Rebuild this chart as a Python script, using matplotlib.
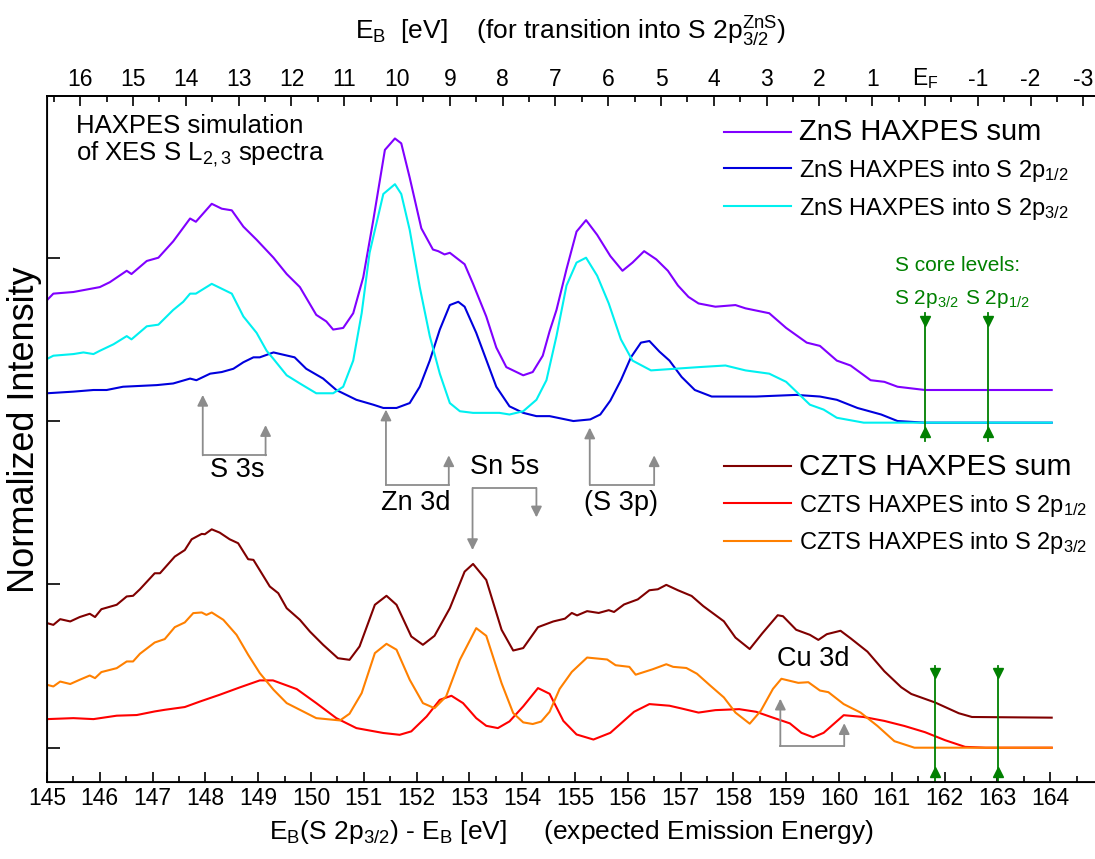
import matplotlib
matplotlib.use("Agg")
import matplotlib.pyplot as plt

plt.rcParams['font.family'] = ['Liberation Sans', 'DejaVu Sans']
plt.rcParams['mathtext.fontset'] = 'custom'
plt.rcParams['mathtext.rm'] = 'Liberation Sans'
plt.rcParams['mathtext.it'] = 'Liberation Sans:italic'
plt.rcParams['mathtext.default'] = 'regular'

# ---- data ----
# ZnS, HAXPES sum
zns_sum_x = [145.0, 145.12, 145.5, 146.0, 146.19, 146.51, 146.6, 146.89, 147.11, 147.39,
             147.71, 147.82, 148.12, 148.31, 148.5, 148.72, 148.97, 149.29, 149.54, 149.79,
             150.1, 150.29, 150.42, 150.61, 150.8, 150.99, 151.18, 151.4, 151.59, 151.71,
             151.87, 152.09, 152.31, 152.41, 152.53, 152.63, 152.91, 153.07, 153.32, 153.51,
             153.7, 154.02, 154.2, 154.39, 154.52, 154.65, 154.84, 155.03, 155.21, 155.42,
             155.67, 155.9, 156.09, 156.31, 156.54, 156.76, 156.95, 157.15, 157.34, 157.66,
             158.04, 158.23, 158.68, 159.0, 159.39, 159.64, 159.96, 160.22, 160.6, 160.86,
             161.11, 161.63, 162.65, 164.03]
zns_sum_y = [2.74, 2.78, 2.79, 2.82, 2.85, 2.92, 2.90, 2.98, 3.00, 3.10,
             3.24, 3.22, 3.33, 3.30, 3.29, 3.19, 3.11, 3.00, 2.90, 2.82,
             2.65, 2.61, 2.56, 2.57, 2.66, 2.88, 3.23, 3.66, 3.73, 3.70,
             3.49, 3.18, 3.05, 3.04, 3.02, 3.03, 2.96, 2.84, 2.64, 2.45,
             2.33, 2.28, 2.30, 2.40, 2.55, 2.68, 2.93, 3.16, 3.23, 3.14,
             3.01, 2.92, 2.97, 3.04, 2.99, 2.92, 2.83, 2.76, 2.72, 2.70,
             2.71, 2.69, 2.66, 2.57, 2.48, 2.46, 2.37, 2.34, 2.25, 2.24,
             2.21, 2.19, 2.19, 2.19]

# ZnS, into S 2p1/2
zns_p12_x = [145.0, 145.5, 145.88, 146.13, 146.44, 147.08, 147.39, 147.71, 147.83, 148.09,
             148.31, 148.53, 148.72, 148.91, 149.03, 149.29, 149.69, 149.91, 150.23, 150.48,
             150.86, 151.18, 151.37, 151.62, 151.87, 152.06, 152.25, 152.44, 152.63, 152.79,
             152.91, 153.13, 153.51, 153.76, 154.02, 154.27, 154.52, 154.97, 155.29, 155.48,
             155.67, 155.87, 156.06, 156.25, 156.41, 156.6, 156.79, 157.02, 157.27, 157.59,
             157.91, 158.43, 159.19, 159.64, 159.96, 160.35, 160.8, 161.11, 161.63, 164.03]
zns_p12_y = [2.17, 2.18, 2.19, 2.19, 2.21, 2.22, 2.23, 2.26, 2.25, 2.29,
             2.30, 2.32, 2.36, 2.39, 2.39, 2.42, 2.39, 2.32, 2.26, 2.19,
             2.13, 2.10, 2.08, 2.08, 2.11, 2.21, 2.37, 2.56, 2.71, 2.73,
             2.70, 2.54, 2.21, 2.09, 2.05, 2.03, 2.03, 2.00, 2.01, 2.04,
             2.125, 2.25, 2.39, 2.48, 2.49, 2.425, 2.37, 2.27, 2.19, 2.15,
             2.15, 2.15, 2.16, 2.15, 2.13, 2.08, 2.04, 2.00, 1.99, 1.99]

# ZnS, into S 2p3/2
zns_p32_x = [145.0, 145.12, 145.5, 145.69, 145.88, 146.0, 146.26, 146.51, 146.6, 146.89,
             147.11, 147.39, 147.58, 147.71, 147.82, 148.12, 148.31, 148.5, 148.72, 148.97,
             149.16, 149.29, 149.54, 149.79, 150.1, 150.42, 150.61, 150.8, 150.96, 151.11,
             151.37, 151.59, 151.71, 151.87, 152.06, 152.25, 152.44, 152.63, 152.82, 153.07,
             153.57, 153.76, 154.02, 154.27, 154.46, 154.65, 154.84, 155.03, 155.21, 155.42,
             155.64, 155.87, 156.09, 156.44, 156.89, 157.34, 157.85, 158.23, 158.68, 159.0,
             159.45, 159.71, 159.96, 160.47, 164.03]
zns_p32_y = [2.38, 2.40, 2.41, 2.42, 2.41, 2.43, 2.47, 2.52, 2.50, 2.58,
             2.59, 2.68, 2.73, 2.78, 2.78, 2.84, 2.81, 2.78, 2.64, 2.54,
             2.43, 2.38, 2.28, 2.23, 2.17, 2.17, 2.21, 2.37, 2.66, 3.03,
             3.39, 3.45, 3.39, 3.17, 2.82, 2.52, 2.29, 2.11, 2.06, 2.05,
             2.05, 2.04, 2.06, 2.13, 2.25, 2.52, 2.83, 2.97, 3.00, 2.89,
             2.72, 2.50, 2.37, 2.31, 2.32, 2.33, 2.34, 2.31, 2.29, 2.24,
             2.10, 2.07, 2.02, 1.99, 1.99]

# CZTS, HAXPES sum
czts_sum_x = [145.0, 145.12, 145.25, 145.44, 145.62, 145.81, 145.91, 146.03, 146.32, 146.51,
              146.63, 146.76, 147.04, 147.14, 147.42, 147.61, 147.74, 147.93, 147.99, 148.12,
              148.27, 148.46, 148.62, 148.81, 148.91, 149.22, 149.38, 149.54, 149.79, 149.98,
              150.23, 150.51, 150.73, 150.92, 151.21, 151.43, 151.62, 151.9, 152.12, 152.34,
              152.63, 152.91, 153.07, 153.32, 153.61, 153.83, 154.02, 154.3, 154.59, 154.81,
              154.94, 155.04, 155.23, 155.45, 155.64, 155.74, 155.93, 156.19, 156.41, 156.57,
              156.73, 156.95, 157.21, 157.43, 157.82, 158.04, 158.31, 158.55, 158.84, 158.94,
              159.19, 159.45, 159.61, 159.77, 160.03, 160.22, 160.54, 160.86, 161.18, 161.37,
              161.82, 162.27, 162.52, 164.03]
czts_sum_y = [0.763, 0.752, 0.787, 0.773, 0.80, 0.82, 0.80, 0.848, 0.875, 0.926,
              0.93, 0.97, 1.068, 1.068, 1.17, 1.21, 1.276, 1.309, 1.307, 1.337,
              1.317, 1.276, 1.252, 1.154, 1.15, 0.987, 0.946, 0.854, 0.783, 0.711,
              0.63, 0.548, 0.538, 0.62, 0.875, 0.93, 0.875, 0.681, 0.63, 0.685,
              0.854, 1.078, 1.125, 1.027, 0.722, 0.595, 0.61, 0.738, 0.773, 0.79,
              0.825, 0.81, 0.836, 0.825, 0.842, 0.831, 0.877, 0.908, 0.964, 0.97,
              0.997, 0.964, 0.929, 0.867, 0.774, 0.674, 0.604, 0.701, 0.811, 0.805,
              0.722, 0.691, 0.66, 0.695, 0.716, 0.67, 0.588, 0.468, 0.37, 0.329,
              0.277, 0.211, 0.188, 0.184]

# CZTS, into S 2p1/2
czts_p12_x = [145.0, 145.5, 145.88, 146.32, 146.7, 147.04, 147.23, 147.61, 147.9, 148.27,
              148.65, 149.03, 149.28, 149.73, 150.1, 150.48, 150.86, 151.37, 151.68, 151.9,
              152.19, 152.44, 152.66, 152.88, 153.13, 153.32, 153.54, 153.76, 154.02, 154.3,
              154.52, 154.78, 155.03, 155.35, 155.67, 156.12, 156.41, 156.79, 157.02, 157.34,
              157.66, 158.11, 158.43, 158.75, 159.07, 159.29, 159.51, 159.71, 160.09, 160.47,
              160.86, 161.24, 161.63, 162.01, 162.39, 162.78, 164.03]
czts_p12_y = [0.175, 0.181, 0.175, 0.196, 0.20, 0.222, 0.232, 0.249, 0.283, 0.324,
              0.369, 0.412, 0.412, 0.359, 0.273, 0.181, 0.12, 0.09, 0.079, 0.10,
              0.191, 0.293, 0.318, 0.273, 0.181, 0.134, 0.12, 0.161, 0.253, 0.365,
              0.33, 0.164, 0.081, 0.05, 0.091, 0.22, 0.267, 0.257, 0.24, 0.215,
              0.23, 0.236, 0.22, 0.184, 0.149, 0.091, 0.064, 0.091, 0.199, 0.188,
              0.164, 0.133, 0.095, 0.046, 0.005, 0.0, 0.0]

# CZTS, into S 2p3/2
czts_p32_x = [145.0, 145.12, 145.25, 145.44, 145.62, 145.81, 145.91, 146.03, 146.32, 146.51,
              146.63, 146.76, 147.04, 147.23, 147.42, 147.61, 147.77, 147.93, 148.02, 148.12,
              148.34, 148.59, 148.81, 149.03, 149.29, 149.54, 149.79, 150.1, 150.42, 150.55,
              150.73, 150.96, 151.21, 151.43, 151.62, 151.87, 152.12, 152.34, 152.56, 152.82,
              153.13, 153.32, 153.61, 153.83, 154.02, 154.2, 154.36, 154.52, 154.71, 154.94,
              155.23, 155.61, 155.77, 156.03, 156.15, 156.47, 156.73, 156.86, 157.11, 157.31,
              157.56, 157.82, 158.04, 158.31, 158.52, 158.75, 158.91, 159.23, 159.42, 159.64,
              159.8, 160.09, 160.41, 160.73, 161.05, 161.43, 164.03]
czts_p32_y = [0.385, 0.375, 0.405, 0.39, 0.416, 0.442, 0.426, 0.463, 0.487, 0.528,
              0.528, 0.575, 0.644, 0.665, 0.738, 0.767, 0.824, 0.828, 0.813, 0.828,
              0.783, 0.691, 0.569, 0.457, 0.355, 0.273, 0.232, 0.181, 0.171, 0.167,
              0.208, 0.334, 0.579, 0.636, 0.60, 0.416, 0.273, 0.242, 0.314, 0.538,
              0.732, 0.685, 0.395, 0.212, 0.155, 0.145, 0.16, 0.22, 0.36, 0.464,
              0.552, 0.54, 0.505, 0.495, 0.447, 0.48, 0.511, 0.495, 0.488, 0.453,
              0.381, 0.308, 0.215, 0.147, 0.226, 0.36, 0.422, 0.397, 0.401, 0.35,
              0.34, 0.267, 0.215, 0.133, 0.04, 0.0, 0.0]

# top axis: binding energy, E_F at this bottom-axis position
ef_pos = 161.63
top_vals = [16, 15, 14, 13, 12, 11, 10, 9, 8, 7, 6, 5, 4, 3, 2, 1, 0, -1, -2, -3]
top_labels = ['16', '15', '14', '13', '12', '11', '10', '9', '8', '7', '6', '5', '4',
              '3', '2', '1', 'E$_F$', '-1', '-2', '-3']
bottom_ticks = list(range(145, 165))

# S core level markers (x positions)
zns_core = [161.63, 162.82]
czts_core = [161.81, 163.01]

# bracket annotations: label, x_left, tip_left, x_right, tip_right, y_bracket, label pos
brackets = [
    ('S 3s', 147.95, 2.16, 149.14, 1.975, 1.79, (148.6, 1.70)),
    ('Zn 3d', 151.42, 2.07, 152.61, 1.79, 1.61, (151.98, 1.50)),
    ('Sn 5s', 153.06, 1.21, 154.27, 1.41, 1.59, (153.67, 1.72)),
    ('(S 3p)', 155.28, 1.96, 156.50, 1.79, 1.61, (155.88, 1.50)),
    ('Cu 3d', 158.89, 0.30, 160.10, 0.15, 0.01, (159.52, 0.545)),
]

fig = plt.figure(figsize=(10.95, 8.59), dpi=100)
ax = fig.add_axes([47/1095, 77/859, 1 - 47/1095, 686/859])

lw = 1.5
l1, = ax.plot(zns_sum_x, zns_sum_y, color='#8000ff', lw=lw)
l2, = ax.plot(zns_p12_x, zns_p12_y, color='#0000dd', lw=lw)
l3, = ax.plot(zns_p32_x, zns_p32_y, color='#00f0f0', lw=lw)
l4, = ax.plot(czts_sum_x, czts_sum_y, color='#800000', lw=lw)
l5, = ax.plot(czts_p12_x, czts_p12_y, color='#ff0000', lw=lw)
l6, = ax.plot(czts_p32_x, czts_p32_y, color='#ff8000', lw=lw)

ax.set_xlim(145, 164.85)
ax.set_ylim(-0.21, 3.99)

# gray brackets with arrows
gray = '#8c8c8c'
for lab, xl, tl, xr, tr, yb, (tx, ty) in brackets:
    ax.plot([xl, xr], [yb, yb], color=gray, lw=1.3)
    for xx, tip in ((xl, tl), (xr, tr)):
        ax.annotate('', xy=(xx, tip), xytext=(xx, yb),
                    arrowprops=dict(arrowstyle='-|>', color=gray, lw=1.3,
                                    mutation_scale=16, shrinkA=0, shrinkB=0))
    ax.text(tx, ty, lab, fontsize=19.5, ha='center', va='center')

# green core level lines
green = '#008000'
for xx in zns_core:
    ax.plot([xx, xx], [2.66, 1.88], color=green, lw=1.3)
    ax.plot([xx], [2.61], marker='v', color=green, ms=7)
    ax.plot([xx], [1.93], marker='^', color=green, ms=7)
for xx in czts_core:
    ax.plot([xx, xx], [0.50, -0.21], color=green, lw=1.3, clip_on=False)
    ax.plot([xx], [0.455], marker='v', color=green, ms=7)
    ax.plot([xx], [-0.15], marker='^', color=green, ms=7)
ax.text(162.24, 2.95, 'S core levels:', color=green, fontsize=15, ha='center', va='center')
ax.text(161.65, 2.75, 'S 2p$_{3/2}$', color=green, fontsize=15, ha='center', va='center')
ax.text(163.0, 2.75, 'S 2p$_{1/2}$', color=green, fontsize=15, ha='center', va='center')

ax.text(145.55, 3.71, 'HAXPES simulation\nof XES S L$_{2,3}$ spectra', fontsize=18.5,
        ha='left', va='center', linespacing=1.1)

# legends
leg1 = ax.legend([l1, l2, l3],
                 ['ZnS HAXPES sum', 'ZnS HAXPES into S 2p$_{1/2}$',
                  'ZnS HAXPES into S 2p$_{3/2}$'],
                 loc='upper left', bbox_to_anchor=(0.646, 0.968), frameon=False,
                 fontsize=17, handlelength=2.85, handletextpad=0.33,
                 labelspacing=0.5, borderaxespad=0, borderpad=0)
leg1.get_texts()[0].set_fontsize(21)
ax.add_artist(leg1)
leg2 = ax.legend([l4, l5, l6],
                 ['CZTS HAXPES sum', 'CZTS HAXPES into S 2p$_{1/2}$',
                  'CZTS HAXPES into S 2p$_{3/2}$'],
                 loc='upper left', bbox_to_anchor=(0.646, 0.48), frameon=False,
                 fontsize=17, handlelength=2.85, handletextpad=0.33,
                 labelspacing=0.5, borderaxespad=0, borderpad=0)
leg2.get_texts()[0].set_fontsize(21.5)

# axes cosmetics
ax.spines['right'].set_visible(False)
for s in ['left', 'top', 'bottom']:
    ax.spines[s].set_linewidth(1.3)
ax.set_xticks(bottom_ticks)
ax.set_xticks([t + 0.5 for t in bottom_ticks], minor=True)
ax.set_yticks([0, 1, 2, 3])
ax.set_yticklabels([])
ax.tick_params(which='both', direction='in', width=1.2, labelsize=16.5)
ax.tick_params(which='major', length=7)
ax.tick_params(which='minor', length=4)
ax.tick_params(axis='y', length=9)
ax.set_xlabel('E$_B$(S 2p$_{3/2}$) - E$_B$ [eV]     (expected Emission Energy)',
              fontsize=19, labelpad=6)
ax.set_ylabel('Normalized Intensity', fontsize=26)
ax.yaxis.set_label_coords(-0.005, 0.513)

ax2 = ax.twiny()
ax2.set_xlim(ax.get_xlim())
ax2.spines['right'].set_visible(False)
ax2.spines['top'].set_linewidth(1.3)
ax2.set_xticks([ef_pos - v for v in top_vals])
ax2.set_xticklabels(top_labels)
ax2.set_xticks([ef_pos - v - 0.5 for v in top_vals], minor=True)
ax2.tick_params(which='both', direction='in', width=1.2, labelsize=16.5)
ax2.tick_params(which='major', length=7)
ax2.tick_params(which='minor', length=4)
ax2.set_xlabel('E$_B$  [eV]    (for transition into S 2p$^{ZnS}_{3/2}$)',
               fontsize=19, labelpad=19)

fig.savefig('out.png', dpi=100)
